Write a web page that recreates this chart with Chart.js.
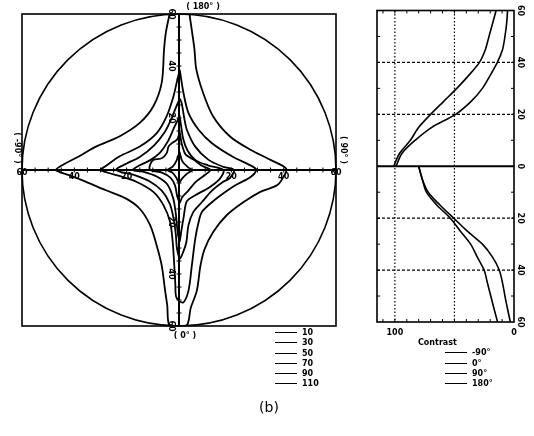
<!DOCTYPE html>
<html>
<head>
<meta charset="utf-8">
<script src="https://cdn.jsdelivr.net/npm/chart.js@4.4.0/dist/chart.umd.min.js"></script>
<style>
body { margin: 0; background: #fff; width: 534px; height: 436px; position: relative; overflow: hidden; }
#polar { position: absolute; left: 0; top: 0; }
#side { position: absolute; left: 360px; top: 0; }
.lg { position: absolute; font: bold 8px "DejaVu Sans", sans-serif; color: #000; }
.lg div { height: 10.3px; line-height: 10.3px; white-space: nowrap; }
.lg i { display: inline-block; width: 22px; border-top: 1.6px solid #000; vertical-align: middle; margin-right: 5px; }
#cap { position: absolute; left: 254px; width: 30px; top: 399px; text-align: center; font: 14px "DejaVu Sans", sans-serif; }
</style>
</head>
<body>
<canvas id="polar" width="352" height="344"></canvas>
<canvas id="side" width="174" height="340"></canvas>
<div class="lg" id="lgPolar" style="left:275px;top:328px"></div>
<div class="lg" id="lgSide" style="left:418px;top:338px"></div>
<div id="cap">(b)</div>
<script>
/* ---------------------------------------------------------------- */
/* 等對比曲線 (x, y) 單位：度 */
const levels = ['10', '30', '50', '70', '90', '110'];

const iso10 = [[4,60],[5,53],[5.9,46.5],[6.6,38.8],[9.2,29.7],[13,20.7],[19.5,12.9],[27.3,7.8],[35,3.9],[41,0.5],
  [40,-2.5],[37.6,-5.8],[31.1,-8.4],[24.7,-12.3],[18.2,-17.4],[13,-23.9],[9.8,-30.4],[8.2,-36.8],[6.8,-46.5],[4.5,-53],[2.8,-60],
  [-3.5,-60],[-4.5,-52],[-5.3,-46.5],[-6.6,-36.8],[-8.5,-29.1],[-11,-21.3],[-15,-14.9],[-20.2,-11],[-27.9,-7.8],[-35.7,-4.5],[-42,-2],[-47,0],
  [-44,2.2],[-38.3,5.2],[-31.8,9],[-22.8,12.9],[-15,18.1],[-9.8,24.5],[-6.6,33.6],[-5.7,46.5],[-5,53],[-3.6,60]];

const iso30 = [[0.3,38.5],[1.7,29.7],[3.6,22],[7.5,15.5],[12.6,10.3],[20.4,5.2],[28.2,1.3],[29.5,0],
  [27.5,-2.6],[21.7,-5.8],[17.8,-8.4],[12.7,-12.3],[8.8,-16.1],[7.5,-20],[6.2,-26.5],[4.9,-36.8],[3.6,-46.5],[1.5,-51],
  [-1,-49],[-1.4,-44],[-1.8,-36.8],[-2.4,-27.8],[-3.4,-20],[-5.9,-13.6],[-9.8,-8.4],[-16.3,-4.5],[-22,-2.5],[-30,0],
  [-28,1.5],[-22.8,5.2],[-15,9],[-8.5,14.2],[-4.7,20.7],[-2.1,28.4],[-0.8,34],[0.3,38.5]];

const iso50 = [[0.3,27.5],[1,25.8],[2,20],[3,15.5],[6.2,9],[11.3,3.9],[17,1.2],[21,0],
  [19.5,-3],[16.5,-4.8],[12.5,-8],[8.8,-12.3],[5.5,-16.1],[3.6,-21.3],[2.8,-27.8],[1.3,-32.3],[0.3,-34],
  [-0.8,-30],[-1.2,-25],[-2,-19],[-3.5,-13],[-6.5,-8],[-11,-4.5],[-17,-2],[-24,0],
  [-20,2.5],[-15,5],[-9.5,9.5],[-5.5,14.5],[-3,19.5],[-1.2,24],[0.3,27.5]];

const iso70 = [[0.2,21],[0.8,17],[1.6,12],[3.2,7.6],[6.2,3.9],[11,1.8],[17,0],
  [15.5,-3.5],[11.4,-6.8],[6.2,-9.7],[3,-12],[1.8,-18],[0.8,-24],[0.2,-27.5],
  [-0.6,-23],[-1.2,-17],[-2.2,-11],[-4.5,-5.5],[-8.5,-2.5],[-13.5,-0.7],[-17.6,0],
  [-15,1.8],[-11,3.8],[-7,7],[-4,11.5],[-2,16],[-0.6,19],[0.2,21]];

const iso90 = [[0.3,14.5],[1,10.3],[2.5,6],[5.7,3.9],[9,1.5],[12,0],
  [10,-1.8],[6.5,-4.5],[3.5,-8],[1.2,-10.5],[0.3,-12.5],
  [-0.7,-10],[-1.5,-6],[-3.2,-3],[-6.5,-1],[-11,0],
  [-11.1,1.9],[-9.8,3.9],[-6.6,4.5],[-4.7,6.5],[-4,9],[-2.5,10.5],[-0.8,11.6],[0.3,14.5]];

const iso110 = [[0.2,7],[1.2,3.5],[3.5,1],[5,0],[3,-1.5],[1,-3.5],[0,-5],[-1,-3],[-2.5,-1],[-4.5,0],[-2.5,1.2],[-1,3.5],[0.2,7]];

const radialTicks = [20, 40, 60];

/* 右側：各方位角的對比 vs 視角 */
const sideAngles = [0, 5, 10, 15, 20, 25, 30, 35, 40, 45, 50, 55, 60];
const az180 = [101, 96, 87, 80, 70, 59, 48, 38, 29, 24, 21, 18, 15];
const az90 = [99, 94, 83, 69, 49, 36, 26.5, 20, 14, 9.6, 7.6, 6.2, 5.4];
const az0 = [80, 77, 73.5, 64.7, 53.4, 45, 36.4, 30.8, 25.1, 22.3, 19.5, 16.7, 13.8];
const azm90 = [80, 77, 72, 62, 50.6, 39.2, 26.5, 18, 12.4, 9.6, 7.6, 5.4, 3.1];
const sideNames = ['-90°', '0°', '90°', '180°'];
const contrastTicks = [100, 0];
const angleTicks = [60, 40, 20, 0, -20, -40, -60];

/* ---------------------------------------------------------------- */
const labelFont = 'bold 8px "DejaVu Sans", sans-serif';

function rotText(ctx, txt, x, y) {
    ctx.save();
    ctx.translate(x, y);
    ctx.rotate(Math.PI / 2);
    ctx.fillText(txt, 0, 0);
    ctx.restore();
}

/* 極座標框：方框、圓、十字軸 */
const polarFrame = {
    id: 'polarFrame',
    beforeDatasetsDraw(chart) {
        const { ctx, chartArea: a, scales: { x, y } } = chart;
        const cx = x.getPixelForValue(0), cy = y.getPixelForValue(0);
        ctx.save();
        ctx.strokeStyle = '#000';
        ctx.fillStyle = '#000';
        ctx.lineWidth = 1.6;
        ctx.strokeRect(a.left, a.top, a.right - a.left, a.bottom - a.top);
        ctx.beginPath();
        ctx.ellipse(cx, cy, x.getPixelForValue(60) - cx, cy - y.getPixelForValue(60), 0, 0, Math.PI * 2);
        ctx.stroke();
        ctx.lineWidth = 2;
        ctx.beginPath();
        ctx.moveTo(a.left, cy); ctx.lineTo(a.right, cy);
        ctx.moveTo(cx, a.top); ctx.lineTo(cx, a.bottom);
        ctx.stroke();
        ctx.lineWidth = 1;
        ctx.beginPath();
        for (let v = -55; v < 60; v += 5) {
            const px = x.getPixelForValue(v), py = y.getPixelForValue(v);
            ctx.moveTo(px, cy - 2.5); ctx.lineTo(px, cy + 2.5);
            ctx.moveTo(cx - 2.5, py); ctx.lineTo(cx + 2.5, py);
        }
        ctx.stroke();

        ctx.font = labelFont;
        ctx.textAlign = 'center';
        ctx.textBaseline = 'middle';
        radialTicks.forEach(v => {
            [-1, 1].forEach(s => {
                ctx.fillText(String(v), x.getPixelForValue(s * v), cy + (v === 60 ? 3 : 7));
                rotText(ctx, String(v), cx - 8, y.getPixelForValue(s * v));
            });
        });
        ctx.fillText('( 180° )', cx + 24, a.top - 7);
        ctx.fillText('( 0° )', cx + 6, a.bottom + 10);
        rotText(ctx, '( -90° )', a.left - 5, cy - 22);
        rotText(ctx, '( 90° )', a.right + 7, cy - 20);
        ctx.restore();
    }
};

/* 右側框：格線、刻度 */
const sideFrame = {
    id: 'sideFrame',
    beforeDatasetsDraw(chart) {
        const { ctx, chartArea: a, scales: { x, y } } = chart;
        ctx.save();
        ctx.strokeStyle = '#000';
        ctx.fillStyle = '#000';
        ctx.lineWidth = 1.2;
        ctx.setLineDash([1.5, 2]);
        ctx.beginPath();
        [100, 50].forEach(v => {
            const px = x.getPixelForValue(v);
            ctx.moveTo(px, a.top); ctx.lineTo(px, a.bottom);
        });
        ctx.stroke();
        ctx.setLineDash([3, 2]);
        ctx.beginPath();
        [-40, -20, 20, 40].forEach(v => {
            const py = y.getPixelForValue(v);
            ctx.moveTo(a.left, py); ctx.lineTo(a.right, py);
        });
        ctx.stroke();
        ctx.setLineDash([]);
        ctx.lineWidth = 2;
        ctx.beginPath();
        ctx.moveTo(a.left, y.getPixelForValue(0)); ctx.lineTo(a.right, y.getPixelForValue(0));
        ctx.stroke();
        ctx.lineWidth = 1.6;
        ctx.strokeRect(a.left, a.top, a.right - a.left, a.bottom - a.top);
        ctx.lineWidth = 1;
        ctx.beginPath();
        for (let v = -50; v < 60; v += 10) {
            const py = y.getPixelForValue(v);
            ctx.moveTo(a.left, py); ctx.lineTo(a.left + 3, py);
            ctx.moveTo(a.right, py); ctx.lineTo(a.right - 3, py);
        }
        for (let c = 10; c <= 110; c += 10) {
            const px = x.getPixelForValue(c);
            ctx.moveTo(px, a.top); ctx.lineTo(px, a.top + 3);
            ctx.moveTo(px, a.bottom); ctx.lineTo(px, a.bottom - 3);
        }
        ctx.stroke();

        ctx.font = labelFont;
        ctx.textAlign = 'center';
        ctx.textBaseline = 'middle';
        contrastTicks.forEach(v => ctx.fillText(String(v), x.getPixelForValue(v), a.bottom + 11));
        angleTicks.forEach(v => rotText(ctx, String(Math.abs(v)), a.right + 6, y.getPixelForValue(v)));
        ctx.restore();
    }
};

/* ---------------------------------------------------------------- */
const toPts = arr => arr.map(([x, y]) => ({ x, y }));
const lineSet = (data, w) => ({
    data, showLine: true, fill: false, borderColor: '#000', borderWidth: w,
    pointRadius: 0, tension: 0.3
});

new Chart(document.getElementById('polar'), {
    type: 'scatter',
    data: {
        datasets: [iso10, iso30, iso50, iso70, iso90, iso110].map((c, i) => Object.assign(lineSet(toPts(c), 1.8), { label: levels[i] }))
    },
    options: {
        responsive: false,
        animation: false,
        layout: { padding: { left: 22, top: 14, right: 16, bottom: 18 } },
        scales: {
            x: { type: 'linear', min: -60, max: 60, display: false },
            y: { type: 'linear', min: -60, max: 60, display: false }
        },
        plugins: { legend: { display: false }, tooltip: { enabled: false } }
    },
    plugins: [polarFrame]
});

const upper = vals => sideAngles.map((a, i) => ({ x: vals[i], y: a }));
const lower = vals => sideAngles.map((a, i) => ({ x: vals[i], y: -a }));

new Chart(document.getElementById('side'), {
    type: 'scatter',
    data: {
        datasets: [
            Object.assign(lineSet(lower(azm90), 1.6), { label: sideNames[0] }),
            Object.assign(lineSet(lower(az0), 1.6), { label: sideNames[1] }),
            Object.assign(lineSet(upper(az90), 1.6), { label: sideNames[2] }),
            Object.assign(lineSet(upper(az180), 1.6), { label: sideNames[3] })
        ]
    },
    options: {
        responsive: false,
        animation: false,
        layout: { padding: { left: 17, top: 10.5, right: 20, bottom: 18 } },
        scales: {
            x: { type: 'linear', min: 0, max: 115, reverse: true, display: false },
            y: { type: 'linear', min: -60, max: 60, display: false }
        },
        plugins: { legend: { display: false }, tooltip: { enabled: false } }
    },
    plugins: [sideFrame]
});

/* 圖例 */
document.getElementById('lgPolar').innerHTML = levels.map(l => `<div><i></i>${l}</div>`).join('');
document.getElementById('lgSide').innerHTML = '<div style="margin-left:0">Contrast</div>' +
    sideNames.map(n => `<div style="margin-left:27px"><i></i>${n}</div>`).join('');
</script>
</body>
</html>
